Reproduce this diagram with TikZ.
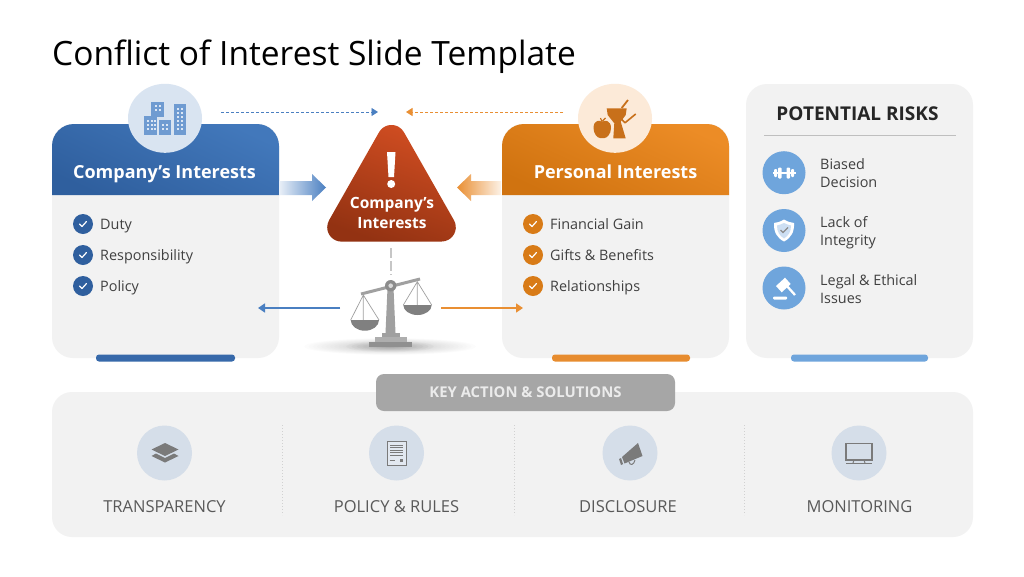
\documentclass[tikz,border=0pt]{standalone}
\usepackage{fontspec}
\setmainfont{Open Sans}
\usetikzlibrary{arrows.meta,calc,shapes.geometric}
\definecolor{panel}{HTML}{F2F2F2}
\definecolor{bluedark}{HTML}{2F5F9E}
\definecolor{bluelite}{HTML}{4278BB}
\definecolor{orgdark}{HTML}{D07310}
\definecolor{orglite}{HTML}{EC8C26}
\definecolor{bluearrow}{HTML}{4A7FC1}
\definecolor{orgarrow}{HTML}{E98F33}
\definecolor{txt}{HTML}{404040}
\definecolor{txtlo}{HTML}{595959}
\definecolor{risk}{HTML}{6FA5DC}
\definecolor{iconbg}{HTML}{D5DEE9}
\definecolor{icongray}{HTML}{7A7A7A}
\definecolor{scalegray}{HTML}{A0A0A0}
\definecolor{bldg}{HTML}{6F9BD1}
\definecolor{pers}{HTML}{C8701A}
\definecolor{tritop}{HTML}{D24E22}
\definecolor{tribot}{HTML}{933212}
\newcommand{\fs}[1]{\fontsize{#1}{#1}\selectfont}
\tikzset{
  lbl/.style={inner sep=0pt,anchor=base},
  item/.style={inner sep=0pt,anchor=base west,yshift=-5pt,text=txt,font=\fs{14.4}},
  low/.style={lbl,yshift=-5.7pt,text=txtlo,font=\fs{16.5}},
  head/.style={lbl,yshift=-6.2pt,text=white,font=\fs{18}\bfseries},
  tritxt/.style={lbl,yshift=-5.3pt,text=white,font=\fs{15.5}\bfseries},
  bullet/.style={circle,minimum size=20pt,inner sep=0pt},
  hcircle/.style={ellipse,minimum width=74pt,minimum height=69pt,inner sep=0pt},
  riskc/.style={circle,fill=risk,minimum size=43pt,inner sep=0pt},
  actc/.style={circle,fill=iconbg,minimum size=55pt,inner sep=0pt},
  bar/.style={rounded corners=3pt},
  thinarrow/.style={line width=1.6pt,-{Triangle[length=7pt,width=9pt]}},
  dasharrow/.style={line width=0.7pt,densely dashed,-{Triangle[length=6.5pt,width=8pt]}},
  sep/.style={line width=1pt,dotted,draw=black!18},
}
\newcommand{\ck}[1]{\draw[white,line width=1.2pt,line cap=round,line join=round] ($(#1)+(-3.5,0)$) -- ($(#1)+(-1,2.5)$) -- ($(#1)+(3.5,-2.5)$);}
\begin{document}
\begin{tikzpicture}[x=1pt,y=-1pt]
\useasboundingbox (0,0) rectangle (1024,576);
\fill[white] (0,0) rectangle (1024,576);
\node[inner sep=0pt,anchor=base west,yshift=-11.5pt,text=black,font=\fs{33.5}] (title) at (52,54) {Conflict of Interest Slide Template};

% cards
\fill[panel,rounded corners=21pt] (52,124) rectangle (279,358);
\fill[panel,rounded corners=21pt] (502,124) rectangle (729,358);
\fill[panel,rounded corners=21pt] (746,84) rectangle (973,358);
\fill[panel,rounded corners=20pt] (52,392) rectangle (973,537);

% headers
\shade[top color=bluelite,bottom color=bluedark,shading angle=-25]
  (52,195) {[rounded corners=22pt] -- (52,124) -- (279,124)} -- (279,195) -- cycle;
\shade[top color=orglite,bottom color=orgdark,shading angle=-25]
  (502,195) {[rounded corners=22pt] -- (502,124) -- (729,124)} -- (729,195) -- cycle;

\node[hcircle,fill=bluelite!20!white] (cico) at (165,118.3) {};
\node[hcircle,fill=orglite!18!white] (pico) at (615,118.3) {};

% buildings
\fill[bldg] (144,116) rectangle (157,135);
\fill[bldg] (151,102) rectangle (164,117);
\fill[bldg] (159,120) rectangle (171,135);
\fill[bldg] (174,104) rectangle (186,135);
\foreach \x in {147,150.5,153.5}\foreach \y in {120,124,128}{\fill[white!75!bldg] (\x,\y) rectangle +(2,2);}
\foreach \x in {154.5,158.5}\foreach \y in {105,109}{\fill[white!75!bldg] (\x,\y) rectangle +(2,2);}
\foreach \x in {162,166}\foreach \y in {124,128}{\fill[white!75!bldg] (\x,\y) rectangle +(2,2);}
\foreach \x in {177,181}\foreach \y in {108,112,116,120,124,128}{\fill[white!75!bldg] (\x,\y) rectangle +(2,2);}

% personal icon
\fill[pers] (606.7,108.3) -- (626.7,108.3) -- (625.7,115) -- (620.7,121.7) -- (625.7,138.3) -- (613.3,138.3) -- (614.3,123.3) -- (607.7,115) -- cycle;
\fill[orglite!18!white] (602,129) circle[radius=11pt];
\fill[pers] (593.5,128) .. controls (593.5,120) and (600,119.5) .. (602,122) .. controls (604,119.5) and (611,120) .. (611,128) .. controls (611,134) and (607,138) .. (604.5,138) -- (600,138) .. controls (597.5,138) and (593.5,134) .. (593.5,128) -- cycle;
\draw[pers,line width=1.1pt] (602,122) -- (600.5,118) (602.5,121) -- (605.5,118);
\draw[pers,line width=1.8pt] (621.7,108) -- (628,100);
\draw[pers,line width=1.6pt,line join=round] (621.7,119.3) -- (625,122.8) -- (635.7,114);

\node[head] (chead) at (164.5,172) {Company\symbol{39}s Interests};
\node[head] (phead) at (615.5,172) {Personal Interests};

% bullets
\foreach \n/\y/\t in {a/224/Duty,b/255/Responsibility,c/286/Policy}{
  \node[bullet,fill=bluedark] (l\n) at (83,\y) {};
  \ck{l\n}
  \node[item] (lt\n) at (100,\y) {\t};
}
\foreach \n/\y/\t in {a/224/Financial Gain,b/255/Gifts \& Benefits,c/286/Relationships}{
  \node[bullet,fill=orgdark!70!orglite] (r\n) at (533,\y) {};
  \ck{r\n}
  \node[item] (rt\n) at (550,\y) {\t};
}
% bars
\fill[bluedark!60!bluelite,bar] (96,354.5) rectangle (235,361.5);
\fill[orgarrow!90!orgdark,bar] (552,354.5) rectangle (690,361.5);
\fill[risk,bar] (791,354.5) rectangle (928,361.5);

% thick arrows
\shade[left color=bluearrow!12!white,right color=bluearrow]
  (279,181) -- (312,181) -- (312,174) -- (326,187.5) -- (312,201) -- (312,195) -- (279,195) -- cycle;
\shade[right color=orgarrow!12!white,left color=orgarrow]
  (501,181) -- (471,181) -- (471,174) -- (457,187.5) -- (471,201) -- (471,195) -- (501,195) -- cycle;

% warning triangle (three circular corners joined by tangents)
\shade[top color=tritop,bottom color=tribot,shading angle=-20]
  (379,132.3) arc[start angle=150.9,end angle=29.1,radius=14.3pt]
  -- (454,220.3) arc[start angle=29.1,end angle=-90,radius=14.3pt]
  -- (341.5,241.6) arc[start angle=270,end angle=150.9,radius=14.3pt] -- cycle;
\fill[white] (387,152) -- (395.5,152) -- (394,177) -- (388.5,177) -- cycle;
\fill[white] (391.2,184) circle[radius=4pt];
\node[tritxt] (tri1) at (392,203) {Company's};
\node[tritxt] (tri2) at (392,223) {Interests};

% dashed arrows
\coordinate (d1s) at (221,112); \coordinate (d1e) at (378,112);
\coordinate (d2s) at (563,112); \coordinate (d2e) at (406,112);
\draw[dasharrow,bluearrow] (d1s) -- (d1e);
\draw[dasharrow,orgarrow] (d2s) -- (d2e);

% scale
\foreach \i in {1,...,20}{\fill[black,opacity=0.012] (390,346.5) ellipse[x radius=4.3*\i pt,y radius=0.42*\i pt];}
\foreach \i in {1,...,8}{\fill[black,opacity=0.02] (390,346.5) ellipse[x radius=5.5*\i pt,y radius=0.7*\i pt];}
\coordinate (tribase) at (391,248); \coordinate (pivot) at (390.7,285.7);
\draw[scalegray!60!white,line width=2pt,dash pattern=on 10pt off 3pt] (tribase) -- (391,275);
\fill[scalegray] (387.5,288) -- (393.5,288) -- (395.5,333) -- (385.5,333) -- cycle;
\fill[scalegray] (381.7,332.7) rectangle (400,336.7);
\fill[scalegray!85!white] (375,336.7) rectangle (406.7,341.7);
\fill[scalegray!90!black] (369,341.7) rectangle (411.7,346.7);
\draw[scalegray,line width=3pt] (361,294) -- (420,279);
\draw[scalegray,line width=0.7pt] (350.7,320) -- (363.3,295) -- (379,320) (363.3,295) -- (363.3,320);
\draw[scalegray,line width=0.7pt] (403.3,305) -- (417.3,281.7) -- (431.7,305) (417.3,281.7) -- (417.3,305);
\fill[black!50] (350.7,320) arc[start angle=180,end angle=360,x radius=14.15pt,y radius=10.7pt] -- cycle;
\fill[black!50] (403.3,305) arc[start angle=180,end angle=360,x radius=14.2pt,y radius=10pt] -- cycle;
\node[circle,fill=black!45,minimum size=11.4pt,inner sep=0pt] (piv) at (pivot) {};
\fill[white!85!black] (pivot) circle[radius=2.3pt];
\coordinate (la1) at (340,308); \coordinate (la2) at (258,308);
\coordinate (ra1) at (441,308); \coordinate (ra2) at (523,308);
\draw[thinarrow,bluearrow] (la1) -- (la2);
\draw[thinarrow,orgarrow] (ra1) -- (ra2);

% risks
\node[lbl,yshift=-6.5pt,text=black!85,font=\fs{19}\bfseries] (rtitle) at (857.5,114) {POTENTIAL RISKS};
\coordinate (rl1) at (764,135.5); \coordinate (rl2) at (956,135.5);
\draw[black!25,line width=0.7pt] (rl1) -- (rl2);
\node[riskc] (rc1) at (784,172.7) {};
\node[riskc] (rc2) at (784,230.5) {};
\node[riskc] (rc3) at (784,288) {};
\node[item] at (820,164) {Biased};
\node[item] at (820,182) {Decision};
\node[item] at (820,222) {Lack of};
\node[item] at (820,240) {Integrity};
\node[item] at (820,280) {Legal \& Ethical};
\node[item] at (820,298) {Issues};
% dumbbell
\fill[white,rounded corners=1pt] (774,169) rectangle (777,177);
\fill[white,rounded corners=1pt] (778,167.5) rectangle (781.5,178.5);
\fill[white,rounded corners=1pt] (786.5,167.5) rectangle (790,178.5);
\fill[white,rounded corners=1pt] (791,169) rectangle (794,177);
\fill[white] (781,171.7) rectangle (787,174.3);
\fill[white] (772.5,172) rectangle (795.5,174);
% shield
\fill[white] (784,219.5) .. controls (788,222) and (791,222.5) .. (794,223) .. controls (794.5,232) and (791,238) .. (784,241.5) .. controls (777,238) and (773.5,232) .. (774,223) .. controls (777,222.5) and (780,222) .. (784,219.5) -- cycle;
\fill[risk!35!white] (784,223) .. controls (787,224.5) and (789,225) .. (791,225.5) .. controls (791,232) and (788.5,235.5) .. (784,238.5) .. controls (779.5,235.5) and (777,232) .. (777,225.5) .. controls (779,225) and (781,224.5) .. (784,223) -- cycle;
\draw[black!45,line width=1.1pt] (780.5,230) -- (783,232.5) -- (788,227.5);
% gavel
\fill[white] (776,286) -- (785,277.7) -- (790.7,284) -- (781.7,292.3) -- cycle;
\draw[white,line width=2.3pt] (786,285) -- (795,295);
\fill[white,rounded corners=1pt] (773,296.5) rectangle (787,299.5);

% bottom
\fill[black!35,rounded corners=8pt] (376,374) rectangle (675,411);
\node[lbl,yshift=-5.2pt,text=white!92!black,font=\fs{14.85}\bfseries] (pill) at (525.5,392.5) {KEY ACTION \& SOLUTIONS};
\node[actc] (a1) at (164.5,453) {};
\node[actc] (a2) at (396.5,453) {};
\node[actc] (a3) at (630,453) {};
\node[actc] (a4) at (859,453) {};
\node[low] at (164.5,507) {TRANSPARENCY};
\node[low] at (396.5,507) {POLICY \& RULES};
\node[low] at (628,507) {DISCLOSURE};
\node[low] at (859.5,507) {MONITORING};
\foreach \x in {282,514,744}{\draw[sep] (\x,425) -- (\x,515);}
% layers
\fill[icongray] (151.5,456) -- (156,453.5) -- (165,458) -- (174,453.5) -- (178.5,456) -- (165,462.5) -- cycle;
\fill[icongray] (151.5,449.5) -- (165,443) -- (178.5,449.5) -- (165,456) -- cycle;
% document
\draw[icongray,line width=1pt,fill=iconbg!70!white] (387,441) rectangle (406,465);
\foreach \y in {445,447.5,450,452.5,455}{\draw[icongray,line width=0.8pt] (390,\y) -- (403,\y);}
\draw[icongray,line width=1pt] (389.5,460.5) -- (395,460.5);
\fill[icongray] (399.5,458.5) rectangle (403,462);
% megaphone
\fill[icongray] (622,457) -- (638,443) -- (642.5,456) -- (624.5,463.5) -- cycle;
\fill[icongray] (619,459) -- (621,458) -- (623,464) -- (621,465) -- cycle;
\draw[icongray,line width=1pt] (629,462) .. controls (630,466) and (634,465) .. (635,460);
% monitor
\draw[icongray,line width=1.1pt] (846,443.5) rectangle (872,460);
\draw[icongray,line width=1pt] (854,460) -- (853,463) (864,460) -- (865,463);
\draw[icongray,line width=1.2pt] (846,463.5) -- (872,463.5);
\end{tikzpicture}
\end{document}
